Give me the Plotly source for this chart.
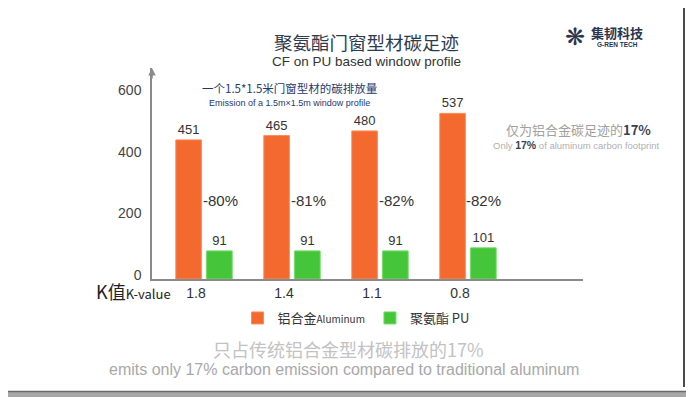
import plotly.graph_objects as go

# ---- data ----
k_values = ["1.8", "1.4", "1.1", "0.8"]
aluminum = [451, 465, 480, 537]
pu = [91, 91, 91, 101]
reduction = ["-80%", "-81%", "-82%", "-82%"]
y_ticks = [0, 200, 400, 600]

# page body offset (default 8px margin in the html page)
OFF = 8
W, H = 694 - OFF, 397 - OFF

def fx(x):  # screen px -> paper
    return (x - OFF) / W

def fy(y):
    return 1 - (y - OFF) / H

# plot area in screen px
X0, X1, Y0, Y1 = 152, 583, 68, 279

FONT = "Liberation Sans, Arial, Noto Sans CJK SC, sans-serif"
CJK = "Noto Sans CJK SC, Liberation Sans, sans-serif"

fig = go.Figure()
fig.add_trace(go.Bar(
    x=k_values, y=aluminum, name="铝合金<span style='font-size:10px'>Aluminum</span>",
    marker=dict(color="#f4692e", line=dict(color="#f98e5a", width=1)),
    text=[str(v) for v in aluminum], textposition="outside",
    textfont=dict(size=13, color="#333", family=FONT), cliponaxis=False,
))
fig.add_trace(go.Bar(
    x=k_values, y=pu, name="聚氨酯 PU",
    marker=dict(color="#45c63a", line=dict(color="#6fdc62", width=1)),
    text=[str(v) for v in pu], textposition="outside",
    textfont=dict(size=13, color="#333", family=FONT), cliponaxis=False,
))

annotations = []
for i, r in enumerate(reduction):
    annotations.append(dict(x=i, y=256, xref="x", yref="y", text=r, showarrow=False,
                            xshift=16, font=dict(size=15, color="#333", family=FONT)))

# y-axis arrow
annotations.append(dict(x=fx(X0), y=fy(Y0), xref="paper", yref="paper", text="", showarrow=True,
                        ax=0, ay=12, arrowhead=2, arrowsize=1, arrowwidth=1.5,
                        arrowcolor="#8a8a8a", standoff=0))

def txt(x, y, t, size, color, family=CJK, xanchor="center"):
    annotations.append(dict(x=fx(x), y=fy(y), xref="paper", yref="paper", text=t,
                            showarrow=False, xanchor=xanchor, yanchor="middle",
                            font=dict(size=size, color=color, family=family)))

txt(366, 42, "聚氨酯门窗型材碳足迹", 18.5, "#2d3b4e")
txt(366, 61, "CF on PU based window profile", 13.5, "#333", FONT)
txt(289, 88, "一个1.5*1.5米门窗型材的碳排放量", 11.5, "#1d3a6e")
txt(289, 103, "Emission of a 1.5m×1.5m window profile", 9, "#1d3a6e", FONT)
txt(578, 129, "仅为铝合金碳足迹的<b><span style='color:#3a4050'>17%</span></b>", 13, "#a0a0a0")
txt(576, 145, "Only <b><span style='color:#3a4050;font-size:10.5px'>17%</span></b> of aluminum carbon footprint",
    9.5, "#b0b0b0", FONT)
txt(94, 291, "K值<span style='font-size:13px'>K-value</span>", 18, "#222", CJK, "left")
txt(348, 349, "只占传统铝合金型材碳排放的17%", 18, "#c2c2c2")
txt(344, 369, "emits only 17% carbon emission compared to traditional aluminum", 16, "#a8a8a8", FONT)
# logo
txt(575, 37, "❋", 24, "#2a3550", "DejaVu Sans")
txt(617, 33, "<b>集韧科技</b>", 13, "#2a3550")
txt(617, 45, "<b>G-REN TECH</b>", 6.5, "#2a3550", FONT)

shapes = [
    # frame
    dict(type="rect", xref="paper", yref="paper", x0=fx(688), x1=fx(694), y0=fy(397), y1=fy(8),
         fillcolor="#cfcfcf", line=dict(width=0), layer="below"),
    dict(type="rect", xref="paper", yref="paper", x0=fx(8), x1=fx(694), y0=fy(397), y1=fy(391),
         fillcolor="#a8a8a8", line=dict(width=0), layer="below"),
    dict(type="line", xref="paper", yref="paper", x0=fx(684), x1=fx(684), y0=fy(387), y1=fy(8),
         line=dict(color="#4a4a4a", width=2)),
    dict(type="line", xref="paper", yref="paper", x0=fx(8), x1=fx(688), y0=fy(391.5), y1=fy(391.5),
         line=dict(color="#6a6a6a", width=1.5)),
]

fig.update_layout(
    width=W, height=H,
    margin=dict(l=0, r=0, t=0, b=0, autoexpand=False),
    paper_bgcolor="white", plot_bgcolor="white",
    barmode="group", bargap=0.3, bargroupgap=0.17,
    font=dict(family=FONT, color="#333"),
    showlegend=True,
    legend=dict(orientation="h", x=fx(356), xanchor="center", y=fy(318), yanchor="middle",
                font=dict(size=13, family=CJK, color="#333"), itemwidth=30,
                bgcolor="rgba(0,0,0,0)"),
    annotations=annotations, shapes=shapes,
)
fig.update_xaxes(type="category", range=[-0.591, 4.307], domain=[fx(X0), fx(X1)],
                 showline=True, linecolor="#8a8a8a",
                 linewidth=1.5, showgrid=False, zeroline=False, ticks="",
                 ticklabelshift=-8, tickfont=dict(size=14, color="#333", family=FONT))
fig.update_yaxes(range=[0, 684], domain=[fy(Y1), fy(Y0)], tickvals=y_ticks, showline=True,
                 linecolor="#8a8a8a",
                 linewidth=1.5, showgrid=False, zeroline=False, ticks="",
                 ticklabelstandoff=6, ticklabelshift=-4,
                 tickfont=dict(size=14, color="#444", family=FONT))

fig.write_html("out.html")
